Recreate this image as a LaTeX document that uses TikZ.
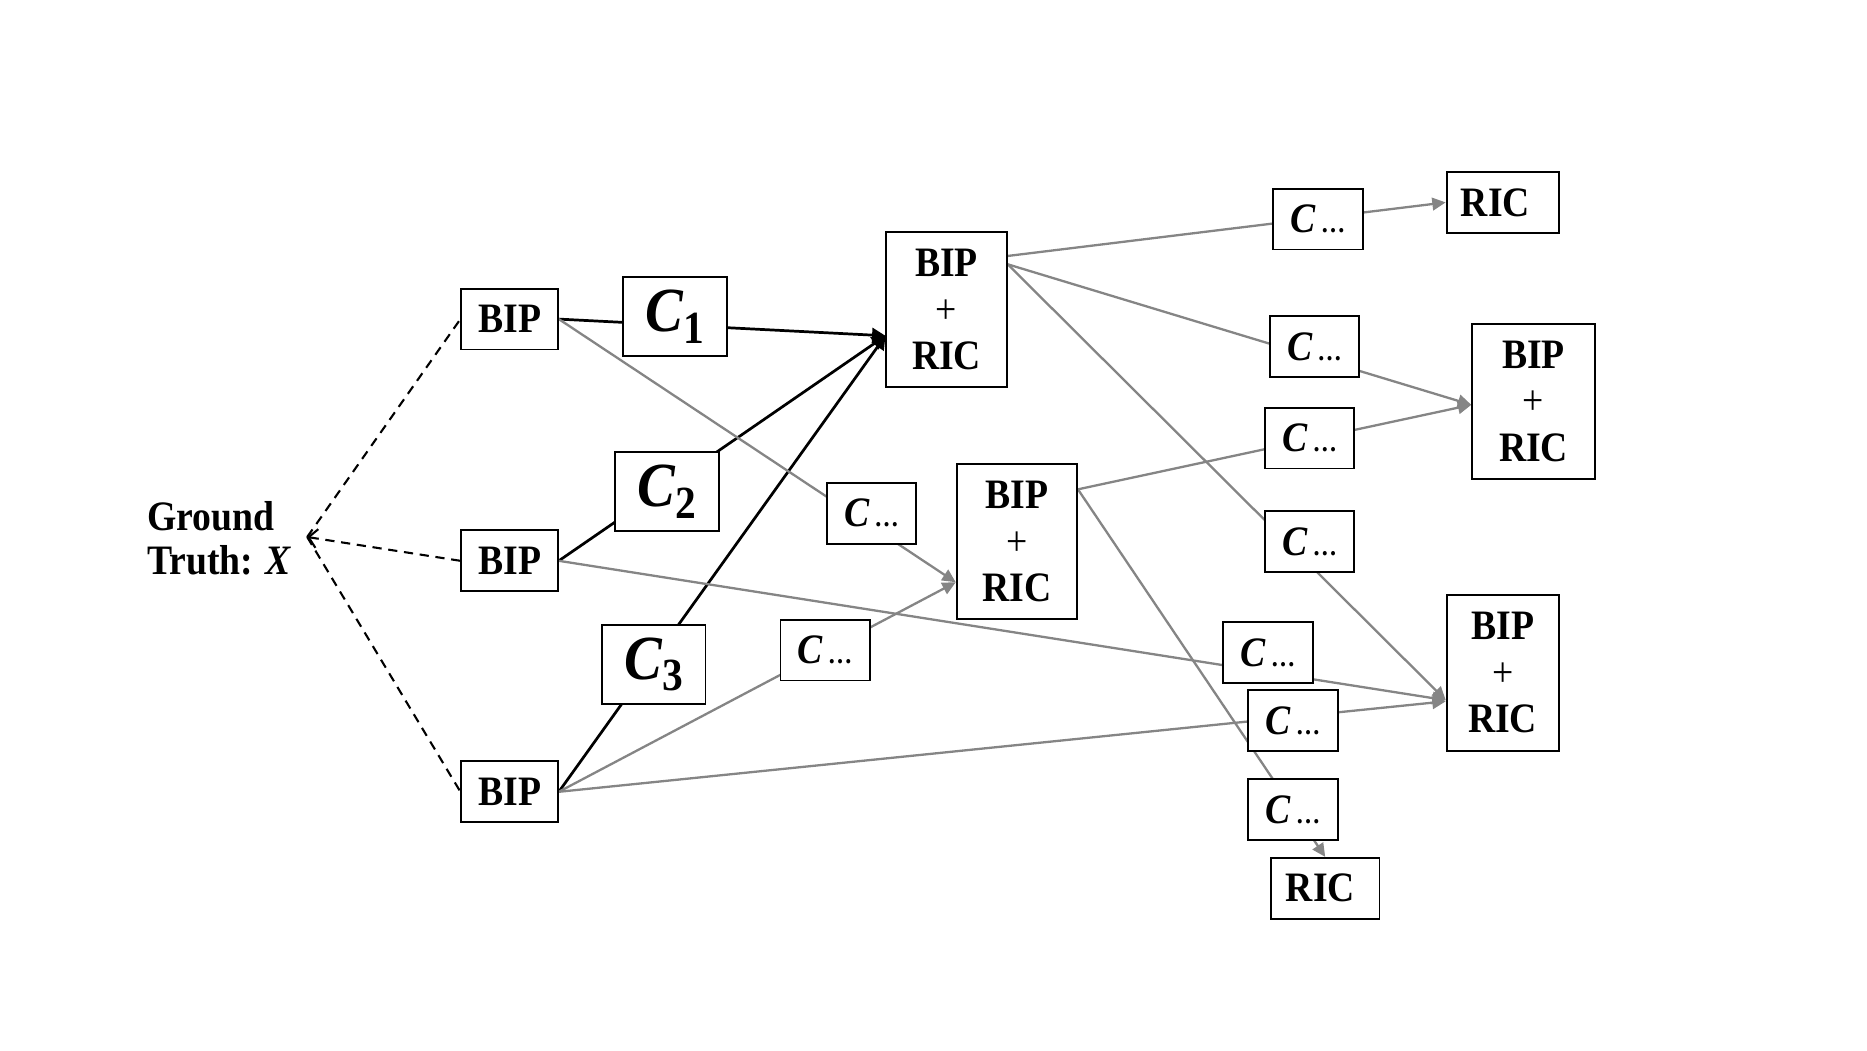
\documentclass[tikz,border=0pt]{standalone}
\usepackage{fontspec}
\setmainfont{Liberation Serif}[FakeStretch=0.9]
\definecolor{edgeGray}{HTML}{858585}
\usetikzlibrary{arrows.meta, backgrounds}
\newcommand{\cBig}[1]{{\fontsize{15}{15}\selectfont\textbf{\textit{C}}}\raisebox{-0.28em}{\fontsize{11}{11}\selectfont\textbf{#1}}}
\newcommand{\cMore}{{\fontsize{10}{10}\selectfont\textbf{\textit{C}}}{\fontsize{6.5}{7}\selectfont\,…}}

\begin{document}
\begin{tikzpicture}[x=0.01cm, y=-0.01cm,
  box/.style={draw, line width=0.45pt, fill=white, inner sep=0pt, align=center,
    font=\fontsize{10}{11.1}\selectfont\bfseries},
  bipbox/.style={box, minimum width=0.81cm, minimum height=0.51cm},
  cbox/.style={box, minimum width=0.87cm, minimum height=0.66cm},
  dbox/.style={box, minimum width=0.75cm, minimum height=0.51cm},
  brbox/.style={box, minimum width=1.01cm, minimum height=1.30cm},
  ricbox/.style={box, minimum width=0.93cm, minimum height=0.51cm},
  main/.style={line width=0.65pt, -{Triangle[length=3.2pt, width=3.4pt]}},
  side/.style={line width=0.55pt, edgeGray, -{Triangle[length=3.2pt, width=3pt]}},
  guess/.style={line width=0.5pt, dash pattern=on 2.2pt off 1.6pt}]
  \useasboundingbox (0,0) rectangle (1568,882);

  % ground truth and first BIPs
  \node[anchor=west, align=left, inner sep=0pt, font=\fontsize{10}{10.5}\selectfont\bfseries] (gt) at (123,452) {Ground\\Truth: \textit{X}};
  \coordinate (gtpt) at (258,451);
  \node[bipbox] (bipA) at (428,268) {BIP};
  \node[bipbox] (bipB) at (428,471) {BIP};
  \node[bipbox] (bipC) at (428,665) {BIP};

  \node[cbox] (cA) at (567,266) {\cBig{1}};
  \node[cbox] (cB) at (560,413) {\cBig{2}};
  \node[cbox] (cC) at (549,558) {\cBig{3}};

  % second round
  \node[brbox] (brA) at (795,260) {BIP\\\textmd{+}\\RIC};
  \node[brbox] (brB) at (854,455) {BIP\\\textmd{+}\\RIC};
  \node[dbox] (dA) at (732,431) {\cMore};
  \node[dbox] (dB) at (693,546) {\cMore};

  % third round
  \node[dbox] (dC) at (1107,184) {\cMore};
  \node[dbox] (dD) at (1104,291) {\cMore};
  \node[dbox] (dE) at (1100,368) {\cMore};
  \node[dbox] (dF) at (1100,455) {\cMore};
  \node[dbox] (dG) at (1065,548) {\cMore};
  \node[dbox] (dH) at (1086,605) {\cMore};
  \node[dbox] (dI) at (1086,680) {\cMore};

  \node[ricbox, minimum width=0.94cm] (ricA) at (1262,170) {RIC\hspace{0.12cm}};
  \node[brbox, minimum width=1.03cm] (brC) at (1288,337) {BIP\\\textmd{+}\\RIC};
  \node[brbox, minimum width=0.94cm, minimum height=1.31cm] (brD) at (1262,565) {BIP\\\textmd{+}\\RIC};
  \node[ricbox, minimum width=0.91cm] (ricB) at (1113,746) {RIC\hspace{0.08cm}};

  \begin{scope}[on background layer]
    \draw[guess] (gtpt) -- (bipA.west);
    \draw[guess, {Straight Barb[length=2pt, width=4.5pt]}-] (gtpt) -- (bipB.west);
    \draw[guess] (gtpt) -- (bipC.west);

    \draw[main] (bipA.east) -- ([yshift=-0.22cm]brA.west);
    \draw[main] (bipB.east) -- ([yshift=-0.22cm]brA.west);
    \draw[main] (bipC.east) -- ([yshift=-0.22cm]brA.west);

    \draw[side] (bipA.east) -- ([yshift=-0.34cm]brB.west);
    \draw[side] (bipC.east) -- ([yshift=-0.34cm]brB.west);
    \draw[side] (bipB.east) -- ([yshift=-0.23cm]brD.west);
    \draw[side] (bipC.east) -- ([yshift=-0.24cm]brD.west);

    \draw[side] ([yshift=0.45cm]brA.east) -- (ricA.west);
    \draw[side] ([yshift=0.38cm]brA.east) -- ([yshift=-0.03cm]brC.west);
    \draw[side] ([yshift=0.38cm]brA.east) -- ([yshift=-0.23cm]brD.west);
    \draw[side] ([yshift=0.44cm]brB.east) -- ([yshift=-0.03cm]brC.west);
    \draw[side] ([yshift=0.44cm]brB.east) -- (ricB.north);
  \end{scope}
\end{tikzpicture}
\end{document}
